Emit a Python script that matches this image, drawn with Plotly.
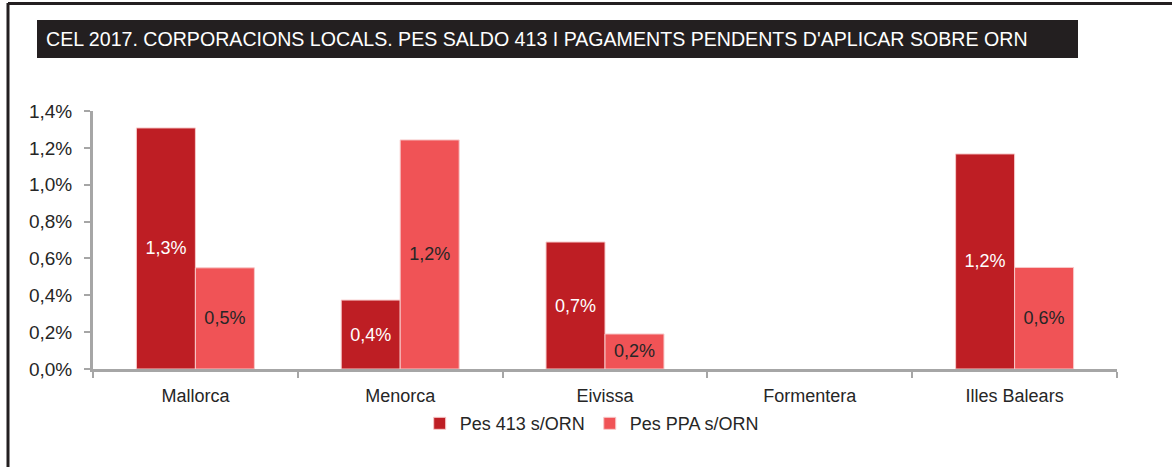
import plotly.graph_objects as go

categories = ["Mallorca", "Menorca", "Eivissa", "Formentera", "Illes Balears"]
pes_413 = [0.01308, 0.00374, 0.00689, 0.0, 0.01167]
pes_ppa = [0.00549, 0.01243, 0.00190, 0.0, 0.00551]
series_names = ["Pes 413 s/ORN", "Pes PPA s/ORN"]
title_text = "CEL 2017. CORPORACIONS LOCALS. PES SALDO 413 I PAGAMENTS PENDENTS D'APLICAR SOBRE ORN"
y_ticks = [0, 0.002, 0.004, 0.006, 0.008, 0.010, 0.012, 0.014]

DARK = "#BE1E24"
LIGHT = "#F05356"
SANS = "Liberation Sans, Arial, sans-serif"


def fmt(v):
    if v == 0:
        return ""
    return f"{v*100:.1f}%".replace(".", ",")


def edge(vals):
    return [0 if v == 0 else 1 for v in vals]


fig = go.Figure()
fig.add_trace(go.Bar(
    x=categories, y=pes_413, name=series_names[0],
    marker=dict(color=DARK, line=dict(color="#F7C9C9", width=edge(pes_413))),
    text=[fmt(v) for v in pes_413], textposition="inside",
    insidetextanchor="middle", textangle=0,
    textfont=dict(color="white", size=18, family=SANS),
    hoverinfo="skip",
))
fig.add_trace(go.Bar(
    x=categories, y=pes_ppa, name=series_names[1],
    marker=dict(color=LIGHT, line=dict(color="#F7C9C9", width=edge(pes_ppa))),
    text=[fmt(v) for v in pes_ppa], textposition="inside",
    insidetextanchor="middle", textangle=0,
    textfont=dict(color="#262626", size=18, family=SANS),
    hoverinfo="skip",
))

fig.update_layout(
    width=1172, height=467,
    margin=dict(l=93, r=55, t=111, b=98),
    paper_bgcolor="white", plot_bgcolor="white",
    separators=",.",
    barmode="group", bargap=0.424, bargroupgap=0,
    showlegend=True,
    legend=dict(orientation="h", x=0.487, xanchor="center", y=-0.14, yanchor="top",
                font=dict(family=SANS, size=18, color="#262626"),
                itemwidth=30, tracegroupgap=0, bgcolor="rgba(0,0,0,0)"),
    font=dict(family=SANS, color="#262626"),
)

fig.update_xaxes(
    showline=True, linecolor="#A6A6A6", linewidth=3,
    ticks="outside", ticklen=6, tickcolor="#A6A6A6", tickwidth=2,
    tickson="boundaries", ticklabelstandoff=8,
    tickfont=dict(family=SANS, size=18, color="#262626"),
    showgrid=False, zeroline=False,
)
fig.update_yaxes(
    range=[0, 0.014], tickvals=y_ticks, tickformat=".1%",
    showline=True, linecolor="#A6A6A6", linewidth=3,
    ticks="outside", ticklen=6, tickcolor="#A6A6A6", tickwidth=2,
    ticklabelstandoff=8,
    tickfont=dict(family=SANS, size=19, color="#262626"),
    showgrid=False, zeroline=False,
)

# Title bar
fig.add_shape(type="rect", xref="paper", yref="paper",
              x0=(37 - 93) / 1024, x1=(1078 - 93) / 1024,
              y0=(369 - 58) / 258, y1=(369 - 20) / 258,
              fillcolor="#231F20", line=dict(width=0), layer="above")
fig.add_annotation(text=title_text, xref="paper", yref="paper",
                   x=(537 - 93) / 1024, y=(369 - 39) / 258,
                   xanchor="center", yanchor="middle", showarrow=False,
                   font=dict(family=SANS, size=19.6, color="white"))

# Frame lines (left and top)
fig.add_shape(type="line", xref="paper", yref="paper",
              x0=(8 - 93) / 1024, x1=(8 - 93) / 1024,
              y0=(369 - 470) / 258, y1=(369 - 3) / 258,
              line=dict(color="#231F20", width=3))
fig.add_shape(type="line", xref="paper", yref="paper",
              x0=(8 - 93) / 1024, x1=(1175 - 93) / 1024,
              y0=(369 - 3.5) / 258, y1=(369 - 3.5) / 258,
              line=dict(color="#231F20", width=3))

fig.write_html("out.html", config={"displayModeBar": False},
               post_script="document.body.style.margin='0';document.body.style.overflow='hidden';")
